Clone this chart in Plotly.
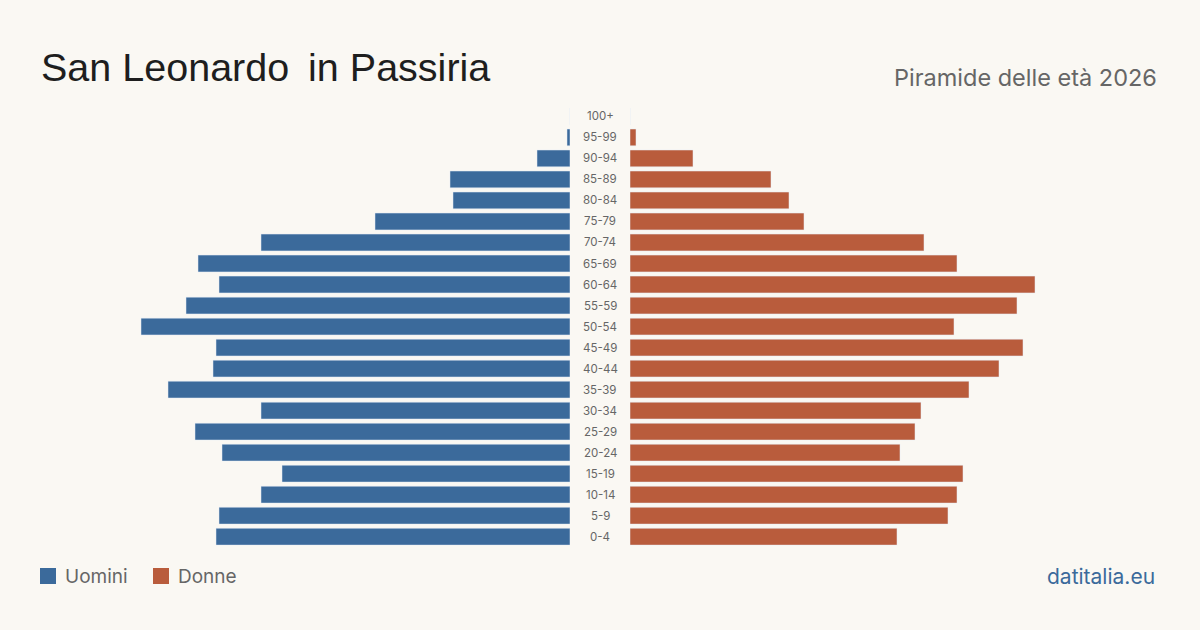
import plotly.graph_objects as go

ages = ["100+", "95-99", "90-94", "85-89", "80-84", "75-79", "70-74", "65-69", "60-64",
        "55-59", "50-54", "45-49", "40-44", "35-39", "30-34", "25-29", "20-24",
        "15-19", "10-14", "5-9", "0-4"]
men = [0, 1, 11, 40, 39, 65, 103, 124, 117, 128, 143, 118, 119, 134, 103, 125, 116, 96, 103, 117, 118]
women = [0, 2, 21, 47, 53, 58, 98, 109, 135, 129, 108, 131, 123, 113, 97, 95, 90, 111, 109, 106, 89]

BLUE = "#3b6a9b"
ORANGE = "#b95c3c"
BG = "#faf8f3"
W, H = 1200, 630
UNIT = 3.0  # px per person

fig = go.Figure()
fig.add_trace(go.Bar(y=ages, x=men, orientation="h", marker_color=BLUE, name="Uomini",
                     xaxis="x", yaxis="y", showlegend=False, hoverinfo="x+y"))
fig.add_trace(go.Bar(y=ages, x=women, orientation="h", marker_color=ORANGE, name="Donne",
                     xaxis="x2", yaxis="y2", showlegend=False, hoverinfo="x+y"))

for a in ages:
    fig.add_annotation(x=600 / W, xref="paper", y=a, yref="y", text=a, showarrow=False,
                       font=dict(family="Inter", size=11.5, color="#666"), xanchor="center")

top, bottom = 105.9, 547.2
ydom = [1 - bottom / H, 1 - top / H]
yax = dict(type="category", categoryorder="array", categoryarray=ages[::-1],
           range=[-0.5, len(ages) - 0.5], showticklabels=False, showgrid=False,
           zeroline=False, domain=ydom, fixedrange=True)

fig.update_layout(
    width=W, height=H, margin=dict(l=0, r=0, t=0, b=0),
    paper_bgcolor=BG, plot_bgcolor=BG, bargap=0.2,
    xaxis=dict(domain=[0, 570 / W], range=[570 / UNIT, 0], visible=False),
    xaxis2=dict(domain=[630 / W, 1], range=[0, 570 / UNIT], visible=False),
    yaxis=yax,
    yaxis2=dict(yax, anchor="x2"),
)
fig.update_layout(yaxis=dict(anchor="x"))

# Title and subtitle
fig.add_annotation(x=39 / W, y=1 - 67 / H, xref="paper", yref="paper", xanchor="left", yanchor="middle",
                   text="San Leonardo\u2009 in Passiria", showarrow=False,
                   font=dict(family="Liberation Sans", size=39.5, color="#1e1e1e"))
fig.add_annotation(x=1159 / W, y=1 - 77 / H, xref="paper", yref="paper", xanchor="right", yanchor="middle",
                   text="Piramide delle età 2026", showarrow=False,
                   font=dict(family="Inter", size=23.5, color="#666"))

# Legend
fig.add_shape(type="rect", xref="paper", yref="paper", x0=40 / W, x1=56 / W,
              y0=1 - 584 / H, y1=1 - 568 / H, fillcolor=BLUE, line_width=0)
fig.add_annotation(x=63 / W, y=1 - 576 / H, xref="paper", yref="paper", xanchor="left", yanchor="middle",
                   text="Uomini", showarrow=False, font=dict(family="Inter", size=19, color="#666"))
fig.add_shape(type="rect", xref="paper", yref="paper", x0=153 / W, x1=169 / W,
              y0=1 - 584 / H, y1=1 - 568 / H, fillcolor=ORANGE, line_width=0)
fig.add_annotation(x=176 / W, y=1 - 576 / H, xref="paper", yref="paper", xanchor="left", yanchor="middle",
                   text="Donne", showarrow=False, font=dict(family="Inter", size=19, color="#666"))

fig.add_annotation(x=1157 / W, y=1 - 576 / H, xref="paper", yref="paper", xanchor="right", yanchor="middle",
                   text="datitalia.eu", showarrow=False, font=dict(family="Inter", size=21, color=BLUE))

fig.write_html("out.html")
